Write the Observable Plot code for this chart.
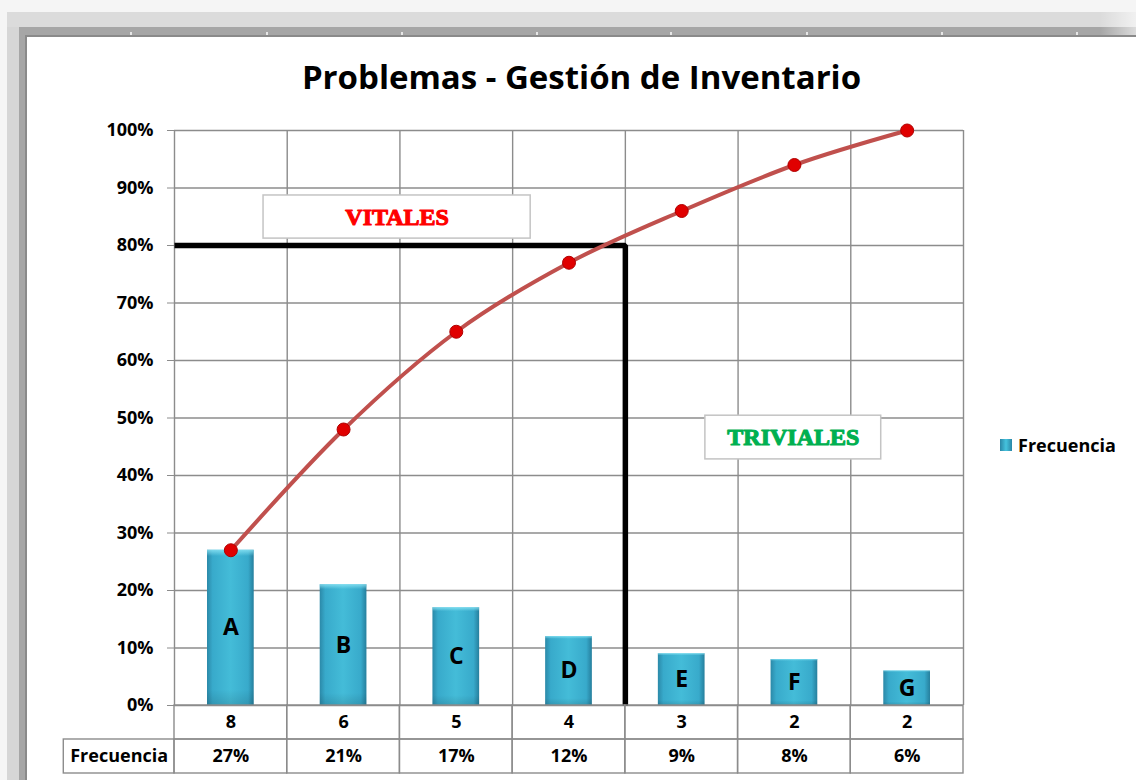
<!DOCTYPE html>
<html>
<head>
<meta charset="utf-8">
<script src="https://cdn.jsdelivr.net/npm/d3@7"></script>
<script src="https://cdn.jsdelivr.net/npm/@observablehq/plot@0.6"></script>
<style>
  html, body { margin: 0; padding: 0; }
  body { width: 1136px; height: 780px; overflow: hidden; position: relative; background: #ffffff; font-family: "Open Sans", sans-serif; }
  .strip { position: absolute; }
  #title { position: absolute; left: 27px; width: 1109px; top: 54px; text-align: center; font-weight: 700; font-size: 33px; color: #000; white-space: nowrap; }
  #chart, #table { position: absolute; left: 0; }
  #chart { top: 0; }
  #table { top: 705px; }
  #legend { position: absolute; left: 1000px; top: 433px; font-weight: 700; font-size: 18px; color: #000; display: flex; align-items: center; }
  #legend .sw { width: 12px; height: 12px; margin-right: 6px; background: linear-gradient(90deg, #2a86a6, #45c3de 50%, #2a86a6); }
  .rtick { position: absolute; top: 32px; width: 2px; height: 3px; background: #e6e6e6; }
</style>
</head>
<body>
<!-- spreadsheet frame -->
<div class="strip" style="left:0;top:0;width:1136px;height:12px;background:#f5f5f5"></div>
<div class="strip" style="left:7px;top:12px;width:1129px;height:15px;background:#dbdbdb"></div>
<div class="strip" style="left:19px;top:27px;width:1117px;height:8px;background:#a6a6a6"></div>
<div class="strip" style="left:25px;top:35px;width:1111px;height:2px;background:#8a8a8a"></div>
<div class="strip" style="left:0;top:12px;width:7px;height:768px;background:#f5f5f5"></div>
<div class="strip" style="left:7px;top:27px;width:12px;height:753px;background:#d6d6d6"></div>
<div class="strip" style="left:19px;top:35px;width:6px;height:745px;background:#a6a6a6"></div>
<div class="strip" style="left:25px;top:35px;width:2px;height:745px;background:#8a8a8a"></div>
<div class="strip" style="left:1100px;top:12px;width:36px;height:23px;background:linear-gradient(90deg, rgba(255,255,255,0), rgba(255,255,255,0.6))"></div>
<div class="rtick" style="left:130px"></div>
<div class="rtick" style="left:266px"></div>
<div class="rtick" style="left:401px"></div>
<div class="rtick" style="left:536px"></div>
<div class="rtick" style="left:670px"></div>
<div class="rtick" style="left:806px"></div>
<div class="rtick" style="left:941px"></div>
<div class="rtick" style="left:1076px"></div>

<div id="title">Problemas - Gestión de Inventario</div>
<div id="chart"></div>
<div id="table"></div>
<div id="legend"><span class="sw"></span><span>Frecuencia</span></div>

<script>
// ---------- data ----------
const categories = ["A", "B", "C", "D", "E", "F", "G"];
const frecuencia = [27, 21, 17, 12, 9, 8, 6];          // % per category (bars)
const acumulado  = [27, 48, 65, 77, 86, 94, 100];      // cumulative % (line)
const conteo     = [8, 6, 5, 4, 3, 2, 2];              // counts (table row 1)
const yTicks     = [0, 10, 20, 30, 40, 50, 60, 70, 80, 90, 100];
const umbral     = 80;                                  // Pareto threshold %
const tableHeader = "Frecuencia";
const annotationLabels = ["VITALES", "TRIVIALES"];
const annotationX1 = [0.79, 4.71];   // in category units
const annotationX2 = [3.16, 6.27];
const annotationY1 = [81.2, 42.8];   // in %
const annotationY2 = [88.7, 50.4];

// ---------- styles ----------
const annotationColors = { VITALES: "#ff0000", TRIVIALES: "#00b050" };
const gridColor = "#8c8c8c";

// ---------- derived tables ----------
const rows = categories.map((c, i) => ({ cat: c, i, f: frecuencia[i], cum: acumulado[i], n: conteo[i] }));
const boundaries = d3.range(0, categories.length + 1);
const vitalCount = acumulado.filter(v => v <= umbral).length;
const cutPath = [
  { x: 0, y: umbral },
  { x: vitalCount, y: umbral },
  { x: vitalCount, y: 0 }
];
const annotations = annotationLabels.map((l, k) => ({
  label: l, x1: annotationX1[k], x2: annotationX2[k], y1: annotationY1[k], y2: annotationY2[k]
}));

const W = 1136;
const mL = 174, mR = 1136 - 963;
const stencil = "'Liberation Serif', 'DejaVu Serif', serif";

const main = Plot.plot({
  width: W,
  height: 716,
  marginLeft: mL,
  marginRight: mR,
  marginTop: 130,
  marginBottom: 11,
  style: { background: "transparent", fontFamily: "'Open Sans', sans-serif", fontSize: "18px", fontWeight: 700, color: "#000", overflow: "visible" },
  x: { domain: [0, categories.length], axis: null },
  y: { domain: [0, 100], axis: null },
  marks: [
    Plot.ruleY(yTicks, { y: d => d, stroke: gridColor, strokeWidth: 1.4 }),
    Plot.ruleX(boundaries, { x: d => d, stroke: gridColor, strokeWidth: 1.4 }),
    Plot.rectY(rows, { x1: "i", x2: d => d.i + 1, y: "f", insetLeft: 33, insetRight: 33, fill: "url(#barGrad)" }),
    Plot.rectY(rows, { x1: "i", x2: d => d.i + 1, y: "f", insetLeft: 33, insetRight: 33, fill: "url(#barShade)" }),
    Plot.text(rows, { x: d => d.i + 0.5, y: d => d.f / 2, text: "cat", fontSize: 23, fontWeight: 700, fill: "#000" }),
    Plot.line(cutPath, { x: "x", y: "y", stroke: "#000", strokeWidth: 5.5, strokeLinejoin: "miter", strokeLinecap: "butt" }),
    Plot.rect(annotations, { x1: "x1", x2: "x2", y1: "y1", y2: "y2", fill: "#fff", stroke: "#c4c4c4", strokeWidth: 1.5 }),
    Plot.text(annotations, {
      x: d => (d.x1 + d.x2) / 2, y: d => (d.y1 + d.y2) / 2, text: "label",
      fill: d => annotationColors[d.label], stroke: d => annotationColors[d.label], strokeWidth: 1.1,
      fontFamily: stencil, fontSize: 24, fontWeight: 700
    }),
    Plot.line(rows, { x: d => d.i + 0.5, y: "cum", stroke: "#c0504d", strokeWidth: 4, curve: "monotone-x" }),
    Plot.dot(rows, { x: d => d.i + 0.5, y: "cum", r: 6.5, fill: "#e00000", stroke: "#b00000", strokeWidth: 1 }),
    Plot.axisY(yTicks, { tickSize: 7, tickPadding: 14, tickFormat: d => d + "%", stroke: gridColor, fill: "#000", fontSize: 18, fontWeight: 700, label: null })
  ]
});

const defs = `
<linearGradient id="barGrad" x1="0" x2="1" y1="0" y2="0">
  <stop offset="0" stop-color="#2b89a8"/>
  <stop offset="0.12" stop-color="#38aacb"/>
  <stop offset="0.5" stop-color="#44bcd8"/>
  <stop offset="0.88" stop-color="#38aacb"/>
  <stop offset="1" stop-color="#267f9d"/>
</linearGradient>
<linearGradient id="barShade" x1="0" x2="0" y1="0" y2="1">
  <stop offset="0" stop-color="#8ee6f6" stop-opacity="0.8"/>
  <stop offset="0.04" stop-color="#8ee6f6" stop-opacity="0"/>
  <stop offset="0.9" stop-color="#000" stop-opacity="0"/>
  <stop offset="1" stop-color="#000" stop-opacity="0.12"/>
</linearGradient>`;
d3.select(main).insert("defs", ":first-child").html(defs);
document.getElementById("chart").appendChild(main);

// ---------- data table under the chart ----------
const table = Plot.plot({
  width: W,
  height: 70,
  marginLeft: mL,
  marginRight: mR,
  marginTop: 0,
  marginBottom: 2,
  style: { background: "transparent", fontFamily: "'Open Sans', sans-serif", fontSize: "18px", fontWeight: 700, color: "#000", overflow: "visible" },
  x: { domain: [0, categories.length], axis: null },
  y: { domain: [0, 2], reverse: true, axis: null },
  marks: [
    Plot.rect(rows, { x1: "i", x2: d => d.i + 1, y1: 0, y2: 1, fill: "none", stroke: gridColor, strokeWidth: 1.4 }),
    Plot.rect(rows, { x1: "i", x2: d => d.i + 1, y1: 1, y2: 2, fill: "none", stroke: gridColor, strokeWidth: 1.4 }),
    Plot.rect([tableHeader], { x1: -1, x2: 0, y1: 1, y2: 2, insetLeft: 2, fill: "none", stroke: gridColor, strokeWidth: 1.4 }),
    Plot.text(rows, { x: d => d.i + 0.5, y: 0.5, text: d => String(d.n), fontSize: 18, fontWeight: 700, fill: "#000" }),
    Plot.text(rows, { x: d => d.i + 0.5, y: 1.5, text: d => d.f + "%", fontSize: 18, fontWeight: 700, fill: "#000" }),
    Plot.text([tableHeader], { x: -0.5, y: 1.5, dx: 1, text: d => d, fontSize: 18, fontWeight: 700, fill: "#000" })
  ]
});
document.getElementById("table").appendChild(table);
</script>
</body>
</html>
